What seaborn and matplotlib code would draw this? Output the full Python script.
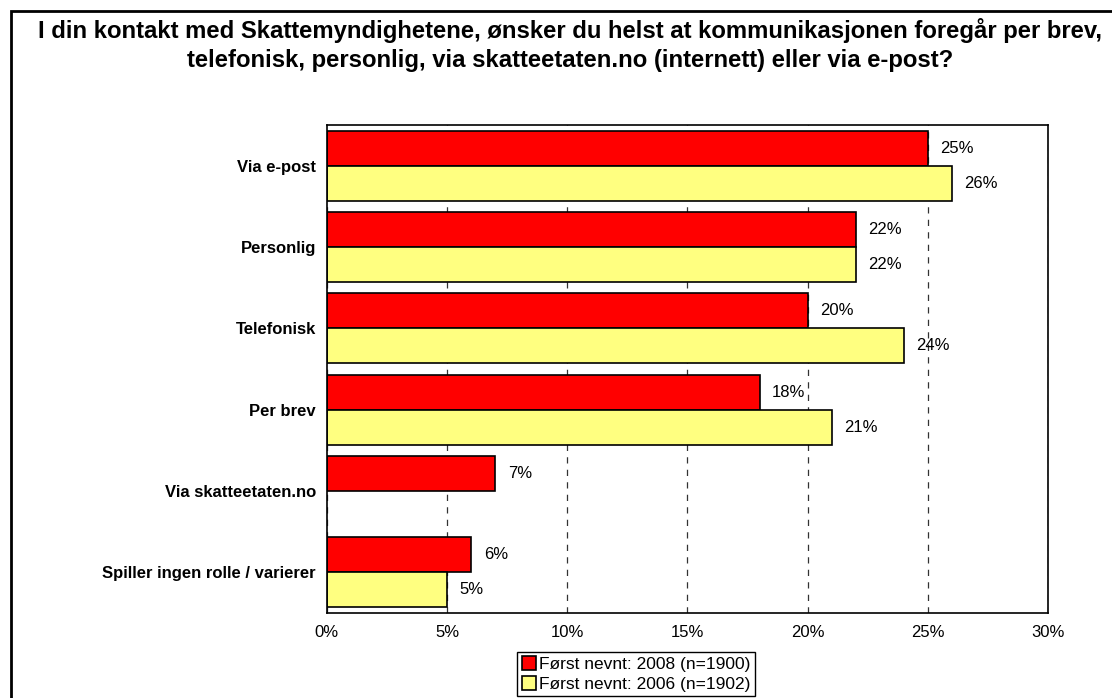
import pandas as pd
import numpy as np
import seaborn as sns
import matplotlib.pyplot as plt
from matplotlib.patches import Rectangle

categories = ["Via e-post", "Personlig", "Telefonisk", "Per brev",
              "Via skatteetaten.no", "Spiller ingen rolle / varierer"]
share_2008 = [25, 22, 20, 18, 7, 6]
share_2006 = [26, 22, 24, 21, np.nan, 5]
series = ["Først nevnt: 2008 (n=1900)", "Først nevnt: 2006 (n=1902)"]
x_ticks = [0, 5, 10, 15, 20, 25, 30]

df = pd.DataFrame({
    "kategori": categories * 2,
    "andel": share_2008 + share_2006,
    "serie": [series[0]] * len(categories) + [series[1]] * len(categories),
})

sns.set_style("white")
plt.rcParams["font.family"] = ["Liberation Sans", "DejaVu Sans"]
plt.rcParams["text.color"] = "black"
plt.rcParams["xtick.color"] = "black"
plt.rcParams["ytick.color"] = "black"

fig = plt.figure(figsize=(11.12, 6.98), dpi=100)
ax = fig.add_axes([0.294, 0.122, 0.6485, 0.699])

sns.barplot(data=df, y="kategori", x="andel", hue="serie", orient="h",
            palette=["#FF0000", "#FFFF80"], saturation=1, edgecolor="black",
            linewidth=1.2, width=0.86, ax=ax, order=categories, hue_order=series)

# value labels at bar ends
for c in ax.containers:
    ax.bar_label(c, fmt="%.0f%%", padding=9, fontsize=12, color="black")

ax.set_xlim(0, 30)
ax.set_xticks(x_ticks)
ax.set_xticklabels([f"{t}%" for t in x_ticks], fontsize=12)
ax.tick_params(axis="x", length=0, pad=9)
ax.tick_params(axis="y", length=0, pad=8)
for lbl in ax.get_yticklabels():
    lbl.set_fontweight("bold")
    lbl.set_fontsize(12)
ax.xaxis.grid(True, color="#333333", linestyle=(0, (5, 5)), linewidth=0.9)
ax.set_axisbelow(True)
for s in ax.spines.values():
    s.set_visible(True)
    s.set_color("black")
    s.set_linewidth(1.2)
ax.set_xlabel("")
ax.set_ylabel("")

ax.legend(loc="upper center", bbox_to_anchor=(636 / 1112, 1 - 652 / 698),
          bbox_transform=fig.transFigure, ncol=1, fontsize=12.5,
          frameon=True, fancybox=False, edgecolor="black", framealpha=1,
          handlelength=0.8, handleheight=0.8, handletextpad=0.2,
          labelspacing=0.25, borderpad=0.25, borderaxespad=0)

fig.text(0.513, 1 - 45 / 698, "I din kontakt med Skattemyndighetene, ønsker du helst at kommunikasjonen foregår per brev,\n"
         "telefonisk, personlig, via skatteetaten.no (internett) eller via e-post?",
         ha="center", va="center", fontsize=17.2, fontweight="bold", linespacing=1.3)

# outer chart frame, running off the right and bottom edges
fig.patches.append(Rectangle((11 / 1112, -0.05), 1.2, 1.05 - 11 / 698, transform=fig.transFigure,
                             fill=False, edgecolor="black", linewidth=2))

plt.savefig("out.png", dpi=100)
